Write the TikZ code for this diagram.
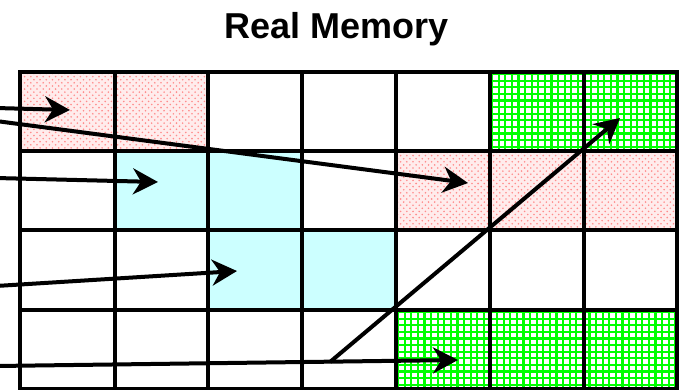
\documentclass[tikz,border=0pt]{standalone}
\usepackage{fontspec}
\setmainfont{Liberation Sans}
\usetikzlibrary{arrows.meta}

\definecolor{dotred}{RGB}{255,140,140}
\definecolor{dotbase}{RGB}{255,236,236}
\definecolor{pagecyan}{RGB}{204,255,255}
\definecolor{meshgreen}{RGB}{0,255,0}

\tikzset{
  frameline/.style={line width=4.5pt, line cap=rect},
  mapping/.style={line width=4pt, -{Stealth[length=25pt,width=26pt,inset=8pt]}},
  cyancell/.style={fill=pagecyan},
  meshline/.style={meshgreen, line width=2.2pt},
  dotmark/.style={fill=dotred},
  title/.style={font=\bfseries\fontsize{36}{40}\selectfont, anchor=base}
}

% staggered pink dots filling a rectangle
\newcommand{\dotcell}[4]{%
  \begin{scope}
    \clip (#1,#2) rectangle (#3,#4);
    \fill[dotbase] (#1,#2) rectangle (#3,#4);
    \foreach \i in {0,...,46} {
      \foreach \j in {0,...,13} {
        \fill[dotmark] ({#1+1.5+\i*6.2},{#2+1.5+\j*6.2}) circle (0.9);
        \fill[dotmark] ({#1+4.6+\i*6.2},{#2+4.6+\j*6.2}) circle (0.9);
      }
    }
  \end{scope}}

% green mesh filling a rectangle
\newcommand{\meshcell}[4]{%
  \begin{scope}
    \clip (#1,#2) rectangle (#3,#4);
    \fill[white] (#1,#2) rectangle (#3,#4);
    \foreach \k in {0,...,45} {
      \draw[meshline] ({#1+2+\k*6.6},#2) -- ({#1+2+\k*6.6},#4);
      \draw[meshline] (#1,{#2+2+\k*6.6}) -- (#3,{#2+2+\k*6.6});
    }
  \end{scope}}

\begin{document}
\begin{tikzpicture}[x=1pt,y=-1pt]
  \clip (0,0) rectangle (679,389);
  \fill[white] (0,0) rectangle (679,389);

  \node[title] (heading) at (337,38) {Real Memory};

  % occupied frames
  \dotcell{20}{72}{208}{151}
  \dotcell{396}{151}{677}{230}
  \fill[cyancell] (115,151) rectangle (302,230);
  \fill[cyancell] (208,230) rectangle (396,310);
  \meshcell{490}{72}{677}{151}
  \meshcell{396}{310}{677}{389}

  % frame grid
  \foreach \x in {20,115,208,302,396,490,584,677}
    \draw[frameline] (\x,72) -- (\x,389);
  \foreach \y in {72,151,230,310,389}
    \draw[frameline] (20,\y) -- (677,\y);

  % page-to-frame mappings
  \coordinate (s1) at (-4,108);   \coordinate (t1) at (70,110);
  \coordinate (s2) at (-4,121);   \coordinate (t2) at (468,183);
  \coordinate (s3) at (-4,178);   \coordinate (t3) at (158,182);
  \coordinate (s4) at (-4,286);   \coordinate (t4) at (237,271);
  \coordinate (s5) at (-4,366);   \coordinate (t5) at (458,360);
  \coordinate (s6) at (330,362);  \coordinate (t6) at (620,118);

  \draw[mapping] (s1) -- (t1);
  \draw[mapping] (s2) -- (t2);
  \draw[mapping] (s3) -- (t3);
  \draw[mapping] (s4) -- (t4);
  \draw[mapping] (s5) -- (t5);
  \draw[mapping] (s6) -- (t6);
\end{tikzpicture}
\end{document}
